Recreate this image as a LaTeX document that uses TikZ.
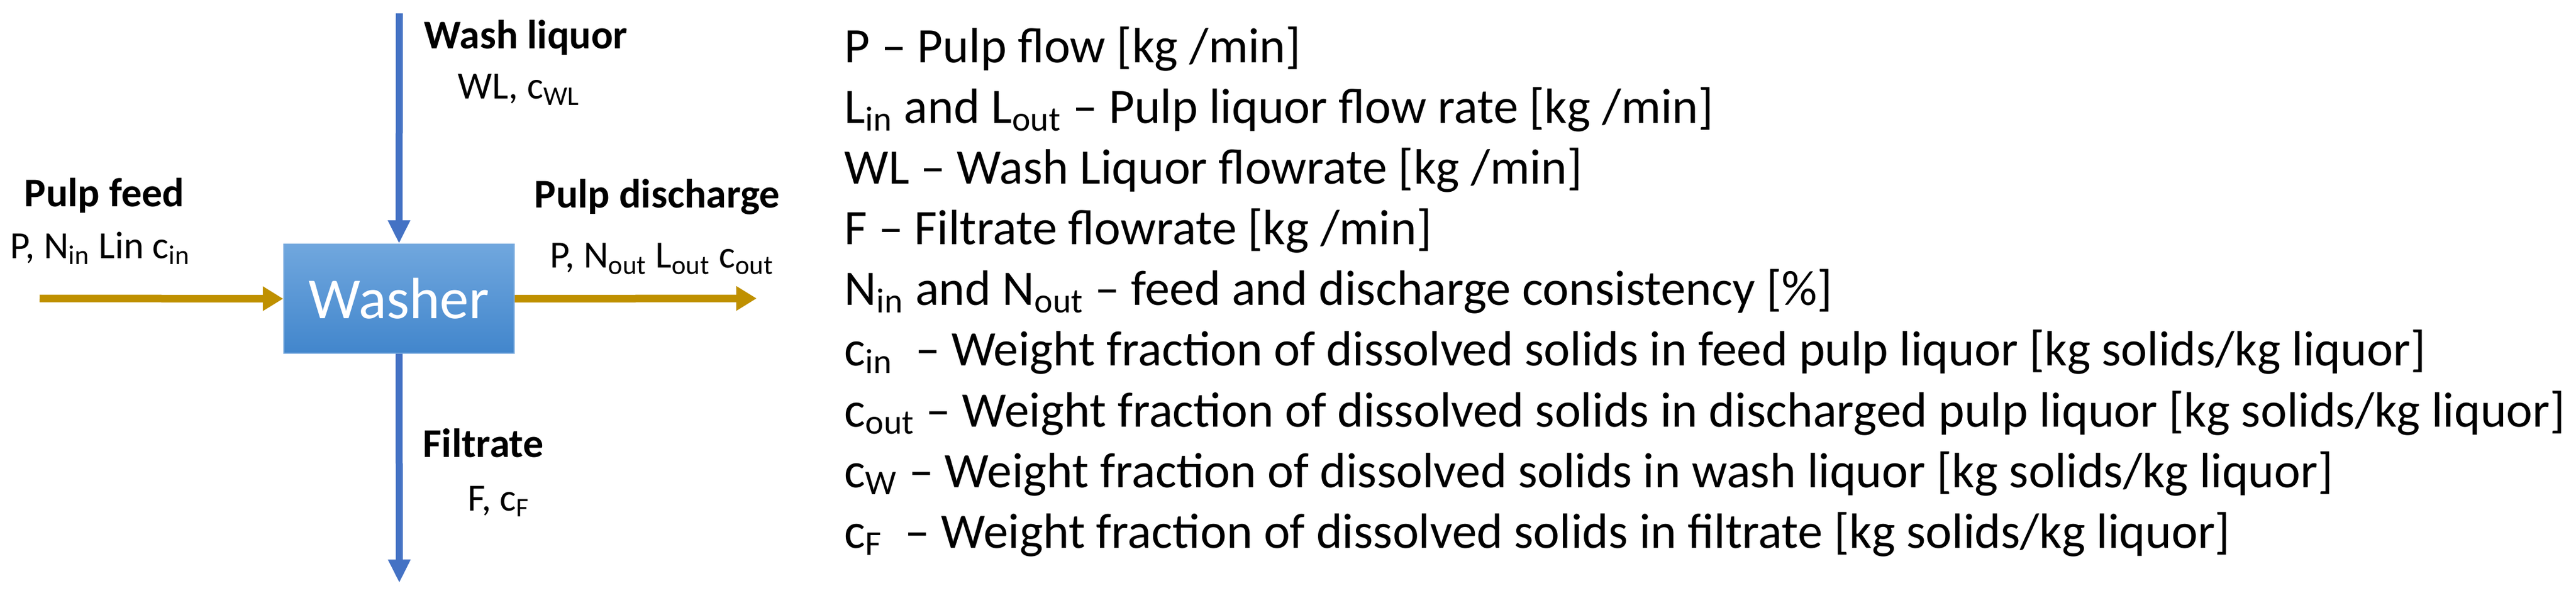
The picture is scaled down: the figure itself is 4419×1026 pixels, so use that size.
\documentclass[tikz,border=0pt]{standalone}
\usepackage{fontspec}
\setmainfont{Carlito}
\usetikzlibrary{arrows.meta}
\definecolor{gold}{RGB}{191,144,0}
\definecolor{lineblue}{RGB}{68,114,196}
\definecolor{boxtop}{RGB}{112,167,222}
\definecolor{boxbot}{RGB}{66,134,204}
\definecolor{boxedge}{RGB}{120,170,222}
\newcommand{\lsz}{\fontsize{21.3pt}{26pt}\selectfont}
\newcommand{\labsz}{\fontsize{16.5pt}{20pt}\selectfont}
\newcommand{\boldsz}{\fontsize{17.5pt}{21pt}\selectfont\bfseries}
\begin{document}
\begin{tikzpicture}[x=0.25pt,y=-0.25pt,
  washerbox/.style={draw=boxedge,line width=0.6pt,top color=boxtop,bottom color=boxbot,
    minimum width=98.75pt,minimum height=46.75pt,inner sep=0pt,text=white,
    font=\fontsize{25pt}{30pt}\selectfont},
  bluearrow/.style={draw=lineblue,line width=3pt,-{Triangle[length=10pt,width=9pt]}},
  goldarrow/.style={draw=gold,line width=3.25pt,-{Triangle[length=8.75pt,width=10pt]}},
  txt/.style={anchor=base west,inner sep=0pt,text=black},
  listtxt/.style={txt,font=\lsz},
  labtxt/.style={txt,font=\labsz},
  boldtxt/.style={txt,font=\boldsz}]
\useasboundingbox (0,0) rectangle (4419,1026);
\node[washerbox] (w) at (684.5,512.5) {Washer};
\coordinate (wlin) at (685,23);
\coordinate (fout) at (685,1000);
\coordinate (pin) at (68,512);
\coordinate (pout) at (1298,512);
\draw[bluearrow] (wlin) -- (w.north);
\draw[bluearrow] (w.south) -- (fout);
\draw[goldarrow] (pin) -- (w.west);
\draw[goldarrow] (w.east) -- (pout);
% stream labels
\node[boldtxt] (t1) at (727,84) {Wash liquor};
\node[labtxt] (t2) at (785,170) {WL, c\textsubscript{WL}};
\node[boldtxt] (t3) at (41,355) {Pulp feed};
\node[labtxt] (t4) at (17,443) {P, N\textsubscript{in} Lin c\textsubscript{in}};
\node[boldtxt] (t5) at (916,357) {Pulp discharge};
\node[labtxt] (t6) at (943,460) {P, N\textsubscript{out} L\textsubscript{out} c\textsubscript{out}};
\node[boldtxt] (t7) at (725,784) {Filtrate};
\node[labtxt] (t8) at (802,876) {F, c\textsubscript{F}};
% legend
\node[listtxt] (l1) at (1448,108) {P – Pulp flow [kg /min]};
\node[listtxt] (l2) at (1448,212) {L\textsubscript{in} and L\textsubscript{out} – Pulp liquor flow rate [kg /min]};
\node[listtxt] (l3) at (1448,316) {WL – Wash Liquor flowrate [kg /min]};
\node[listtxt] (l4) at (1448,420) {F – Filtrate flowrate [kg /min]};
\node[listtxt] (l5) at (1448,524) {N\textsubscript{in} and N\textsubscript{out} – feed and discharge consistency [\%]};
\node[listtxt] (l6) at (1448,628) {c\textsubscript{in}\ \ – Weight fraction of dissolved solids in feed pulp liquor [kg solids/kg liquor]};
\node[listtxt] (l7) at (1448,732) {c\textsubscript{out} – Weight fraction of dissolved solids in discharged pulp liquor [kg solids/kg liquor]};
\node[listtxt] (l8) at (1448,836) {c\textsubscript{W} – Weight fraction of dissolved solids in wash liquor [kg solids/kg liquor]};
\node[listtxt] (l9) at (1448,940) {c\textsubscript{F}\ \ – Weight fraction of dissolved solids in filtrate [kg solids/kg liquor]};
\end{tikzpicture}
\end{document}
